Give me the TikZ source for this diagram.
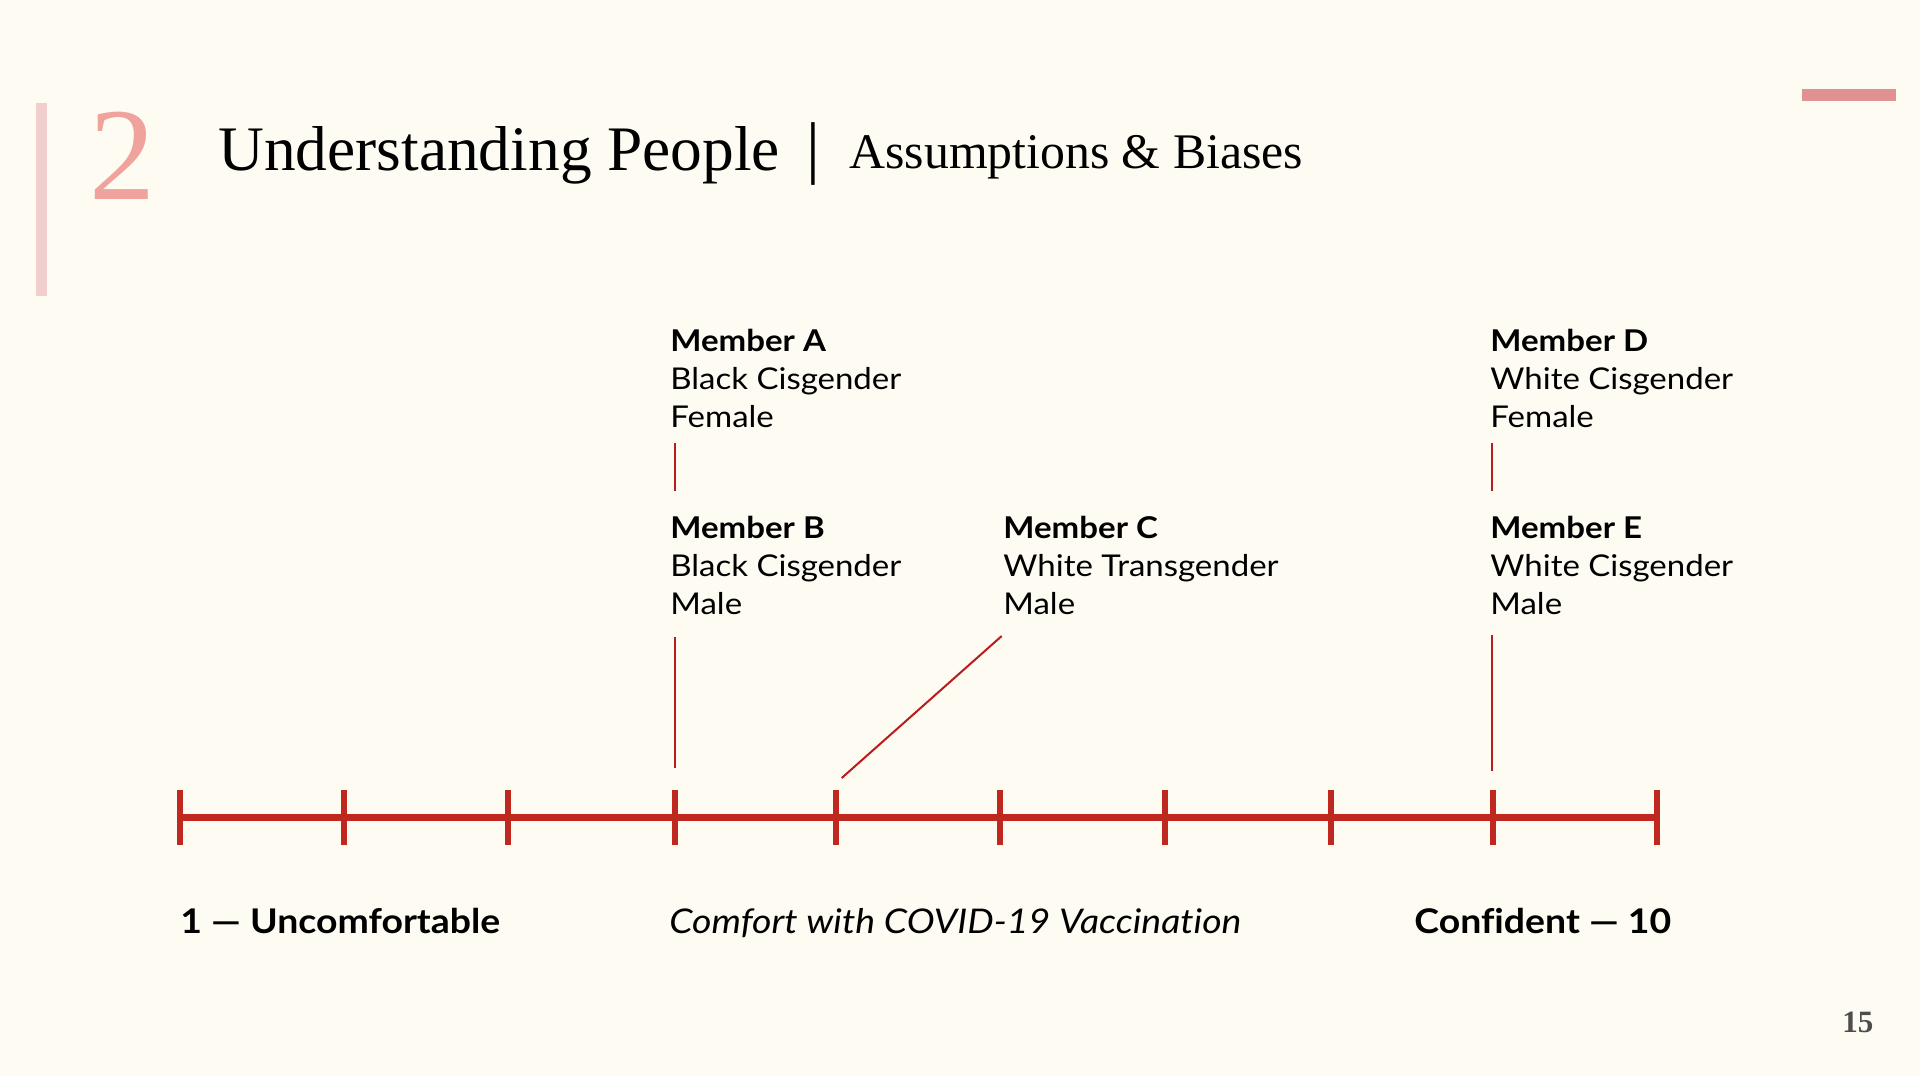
\documentclass[tikz,border=0pt]{standalone}
\usepackage{fontspec}
\setmainfont{Liberation Serif}
\newfontfamily\lato[FakeStretch=1.1,Ligatures={NoCommon}]{Lato}
\definecolor{bg}{HTML}{FDFBF2}
\definecolor{tl}{HTML}{C0271E}
\definecolor{cn}{HTML}{B81C1C}
\definecolor{pinkbar}{HTML}{F2CFCF}
\definecolor{pinknum}{HTML}{F0A39D}
\definecolor{rosebar}{HTML}{E09290}
\definecolor{pagenum}{HTML}{4D4D4D}
\begin{document}
\begin{tikzpicture}[x=0.5pt,y=-0.5pt,
  txt/.style={inner sep=0pt, anchor=base west},
  member/.style={txt, align=left, font=\lato\fontsize{15}{18.9}\selectfont},
  axislbl/.style={txt, font=\lato\fontsize{17}{22}\selectfont},
  axis/.style={draw=tl, line width=3.5pt},
  tickmark/.style={draw=tl, line width=3pt},
  conn/.style={draw=cn, line width=1pt}]
\fill[bg] (0,0) rectangle (1920,1076);
\useasboundingbox (0,0) rectangle (1920,1076);
% decorations
\fill[pinkbar] (36,103) rectangle (47,296);
\fill[rosebar] (1802,89) rectangle (1896,101);
% heading
\node[txt, font=\fontsize{66}{66}\selectfont, text=pinknum] (num) at (89,199) {2};
\node[txt, font=\fontsize{31.7}{36}\selectfont] (title) at (218,170) {Understanding People};
\node[txt, font=\fontsize{34.5}{36}\selectfont] (sep) at (806,170) {|};
\node[txt, font=\fontsize{24.9}{30}\selectfont] (sub) at (849,168) {Assumptions \& Biases};
\node[txt, font=\bfseries\fontsize{15.5}{18}\selectfont, text=pagenum] (page) at (1842,1032) {15};
% members (base anchor = baseline of last line)
\node[member] (A) at (670,427) {\textbf{Member A}\\Black Cisgender\\Female};
\node[member] (B) at (670,614) {\textbf{Member B}\\Black Cisgender\\Male};
\node[member] (C) at (1003,614) {\textbf{Member C}\\White Transgender\\Male};
\node[member] (D) at (1490,427) {\textbf{Member D}\\White Cisgender\\Female};
\node[member] (E) at (1490,614) {\textbf{Member E}\\White Cisgender\\Male};
% timeline
\foreach \i/\x in {1/180,2/344,3/508,4/675,5/836,6/1000,7/1165,8/1331,9/1493,10/1657}{
  \coordinate (t\i) at (\x,817);
  \coordinate (t\i top) at (\x,790);
  \coordinate (t\i bot) at (\x,845);
}
\draw[axis] (t1) -- (t10);
\foreach \i in {1,...,10}{\draw[tickmark] (t\i top) -- (t\i bot);}
% connectors
\coordinate (ab1) at (675,443);
\coordinate (ab2) at (675,491);
\coordinate (bt1) at (675,637);
\coordinate (bt2) at (675,768);
\coordinate (ct1) at (1001.7,636);
\coordinate (ct2) at (841.7,778);
\coordinate (de1) at (1492,443);
\coordinate (de2) at (1492,491);
\coordinate (et1) at (1492,635);
\coordinate (et2) at (1492,771);
\draw[conn] (ab1) -- (ab2);
\draw[conn] (bt1) -- (bt2);
\draw[conn] (ct1) -- (ct2);
\draw[conn] (de1) -- (de2);
\draw[conn] (et1) -- (et2);
% axis labels
\node[axislbl, font=\lato\bfseries\fontsize{17}{22}\selectfont] (low) at (180,933) {1 — Uncomfortable};
\node[axislbl, font=\lato\itshape\fontsize{17}{22}\selectfont] (mid) at (669,933) {Comfort with COVID-19 Vaccination};
\node[axislbl, font=\lato\bfseries\fontsize{17}{22}\selectfont] (high) at (1414,933) {Confident — 10};
\end{tikzpicture}
\end{document}
